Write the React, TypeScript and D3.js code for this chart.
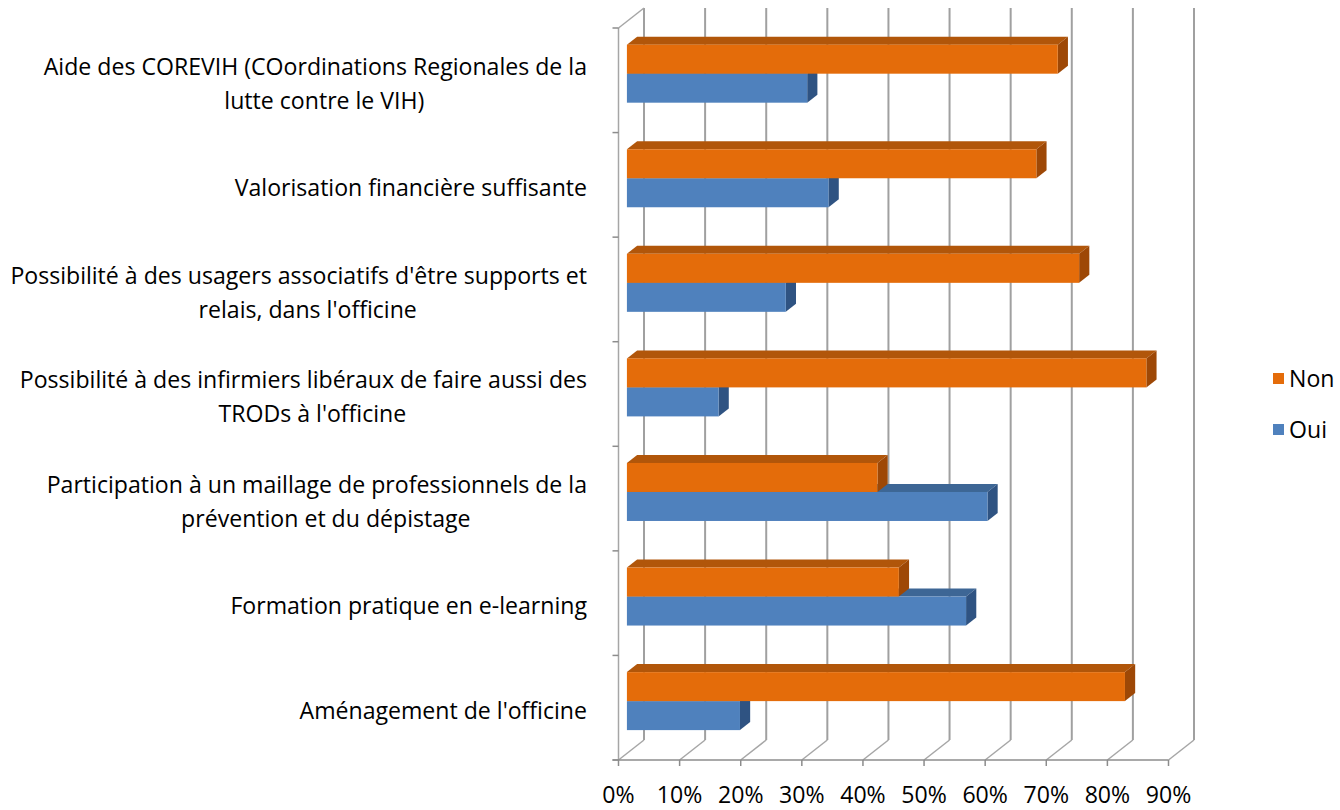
import React, { useEffect, useRef } from 'react';
import * as d3 from 'd3';

// "|" marks where the category label wraps
const categories = [
  "Aide des COREVIH (COordinations Regionales de la|lutte contre le VIH)",
  "Valorisation financière suffisante",
  "Possibilité à des usagers associatifs d'être supports et|relais, dans l'officine",
  "Possibilité à des infirmiers libéraux de faire aussi des|TRODs à l'officine",
  "Participation à un maillage de professionnels de la|prévention et du dépistage",
  "Formation pratique en e-learning",
  "Aménagement de l'officine",
];
const nonValues = [70.5, 67, 74, 85, 41, 44.5, 81.5];
const ouiValues = [29.5, 33, 26, 15, 59, 55.5, 18.5];
const tickValues = [0, 10, 20, 30, 40, 50, 60, 70, 80, 90];
const seriesNames = ["Non", "Oui"];

const colors = {
  Non: { front: "#E46C0A", top: "#B1560A", side: "#9E4806" },
  Oui: { front: "#4F81BD", top: "#3D6695", side: "#2F5382" },
};

function App() {
  const ref = useRef(null);

  useEffect(() => {
    const svg = d3.select(ref.current);
    svg.selectAll("*").remove();

    const width = 1340;
    const height = 810;
    const font = "'Open Sans', sans-serif";

    // 3D box: front plane + depth offset
    const DX = 25.5;
    const DY = -20;
    const top = 28;
    const floor = 760;
    const labelRight = 587;

    const x = d3.scaleLinear().domain([0, 90]).range([618.5, 1168.5]);
    const y = d3.scaleBand().domain(categories).range([top, floor]);

    svg.attr('width', width).attr('height', height);

    // fit font size so the longest label line has the reference width
    const probe = svg.append('text').attr('font-family', font).attr('font-size', 20)
      .text("Possibilité à des usagers associatifs d'être supports et");
    const probeW = probe.node().getComputedTextLength();
    probe.remove();
    const fs = 20 * 577 / probeW;

    const grid = svg.append('g');
    // back wall gridlines
    grid.selectAll('line.back')
      .data(tickValues)
      .enter()
      .append('line')
      .attr('x1', d => x(d) + DX).attr('x2', d => x(d) + DX)
      .attr('y1', top + DY).attr('y2', floor + DY)
      .attr('stroke', '#a0a0a0').attr('stroke-width', 2);
    // floor diagonals
    grid.selectAll('line.floor')
      .data(tickValues)
      .enter()
      .append('line')
      .attr('x1', d => x(d)).attr('x2', d => x(d) + DX)
      .attr('y1', floor).attr('y2', floor + DY)
      .attr('stroke', '#a6a6a6').attr('stroke-width', 1.5);
    // left wall
    grid.append('line')
      .attr('x1', x(0)).attr('x2', x(0)).attr('y1', top).attr('y2', floor)
      .attr('stroke', '#a6a6a6').attr('stroke-width', 1.5);
    grid.append('line')
      .attr('x1', x(0)).attr('x2', x(0) + DX).attr('y1', top).attr('y2', top + DY)
      .attr('stroke', '#a6a6a6').attr('stroke-width', 1.5);
    // left axis ticks at band edges
    const edges = categories.map(c => y(c)).concat([floor]);
    grid.selectAll('line.ytick')
      .data(edges)
      .enter()
      .append('line')
      .attr('x1', x(0) - 6).attr('x2', x(0))
      .attr('y1', d => d).attr('y2', d => d)
      .attr('stroke', '#8c8c8c').attr('stroke-width', 1.5);
    // bottom axis
    grid.append('line')
      .attr('x1', x(0) - 6).attr('x2', x(90)).attr('y1', floor).attr('y2', floor)
      .attr('stroke', '#8c8c8c').attr('stroke-width', 1.5);
    grid.selectAll('line.xtick')
      .data(tickValues)
      .enter()
      .append('line')
      .attr('x1', d => x(d)).attr('x2', d => x(d))
      .attr('y1', floor).attr('y2', floor + 6)
      .attr('stroke', '#8c8c8c').attr('stroke-width', 1.5);

    // bars
    const t0 = 0.33;   // depth position of bar front face
    const tb = 0.4;    // bar thickness in depth
    const barH = 29;
    const ddx = DX * tb;
    const ddy = DY * tb;
    const shiftX = DX * t0;
    const shiftY = DY * t0;

    const bars = [];
    categories.forEach((c, i) => {
      const yc = y(c) + y.bandwidth() / 2 + shiftY;
      // Oui below, drawn first; Non above
      bars.push({ series: "Oui", value: ouiValues[i], yt: yc, yb: yc + barH });
      bars.push({ series: "Non", value: nonValues[i], yt: yc - barH, yb: yc });
    });

    const barG = svg.append('g');
    bars.forEach(b => {
      const x0 = x(0) + shiftX;
      const x1 = x(b.value) + shiftX;
      const col = colors[b.series];
      const g = barG.append('g');
      g.append('path')
        .attr('d', `M${x0},${b.yt}L${x1},${b.yt}L${x1 + ddx},${b.yt + ddy}L${x0 + ddx},${b.yt + ddy}Z`)
        .attr('fill', col.top);
      g.append('path')
        .attr('d', `M${x1},${b.yt}L${x1 + ddx},${b.yt + ddy}L${x1 + ddx},${b.yb + ddy}L${x1},${b.yb}Z`)
        .attr('fill', col.side);
      g.append('rect')
        .attr('x', x0).attr('y', b.yt)
        .attr('width', x1 - x0).attr('height', b.yb - b.yt)
        .attr('fill', col.front);
    });

    // category labels
    const labelG = svg.append('g')
      .attr('font-family', font).attr('font-size', fs).attr('fill', '#000');
    const lineGap = 34;
    categories.forEach(c => {
      const lines = c.split('|');
      const yc = y(c) + y.bandwidth() / 2 + 3;
      const first = yc - (lines.length - 1) * lineGap / 2 + 0.36 * fs;
      const t1 = labelG.append('text')
        .attr('x', labelRight).attr('y', first)
        .attr('text-anchor', 'end')
        .text(lines[0]);
      const w1 = t1.node().getComputedTextLength();
      lines.slice(1).forEach((ln, k) => {
        labelG.append('text')
          .attr('x', labelRight - w1 / 2 + 9).attr('y', first + lineGap * (k + 1))
          .attr('text-anchor', 'middle')
          .text(ln);
      });
    });

    // x tick labels
    svg.append('g')
      .attr('font-family', font).attr('font-size', fs).attr('fill', '#000')
      .selectAll('text')
      .data(tickValues)
      .enter()
      .append('text')
      .attr('x', d => x(d))
      .attr('y', 803)
      .attr('text-anchor', 'middle')
      .text(d => `${d}%`);

    // legend
    const legend = svg.append('g')
      .attr('font-family', font).attr('font-size', fs).attr('fill', '#000');
    seriesNames.forEach((s, i) => {
      const ly = 379 + i * 51;
      legend.append('rect')
        .attr('x', 1273).attr('y', ly - 6)
        .attr('width', 11).attr('height', 11)
        .attr('fill', colors[s].front);
      legend.append('text')
        .attr('x', 1289).attr('y', ly + 0.36 * fs)
        .text(s);
    });
  }, []);

  return (
    <svg ref={ref} style={{ position: 'absolute', left: 0, top: 0, background: '#fff' }}></svg>
  );
}

export default App;
